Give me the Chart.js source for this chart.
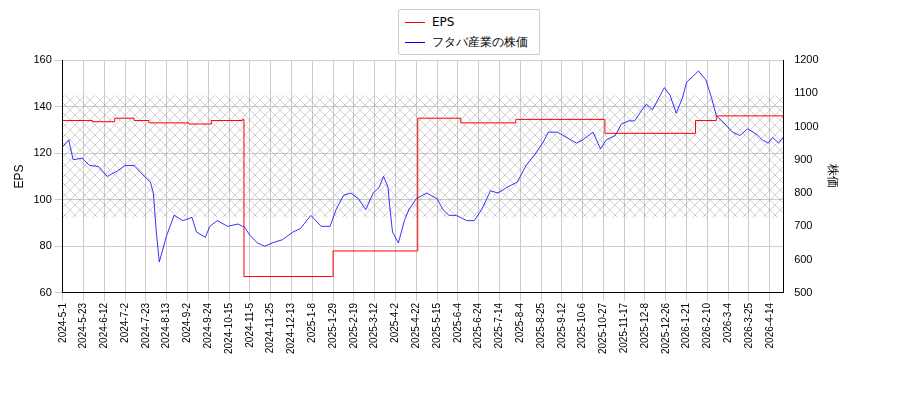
<!DOCTYPE html>
<html><head><meta charset="utf-8">
<script src="https://cdn.jsdelivr.net/npm/chart.js@4"></script>
<style>
body{margin:0;background:#fff;font-family:"DejaVu Sans",sans-serif}
#wrap{position:relative;width:900px;height:400px}
#legend{position:absolute;left:398px;top:9px;width:140px;border:1px solid #ccc;border-radius:2px;font-size:12px;padding:2px 0 2px 0;background:#fff}
#legend div{height:20px;line-height:20px;padding-left:6px}
#legend span{display:inline-block;width:20px;height:0;vertical-align:middle;margin-right:7px}
</style></head><body>
<div id="wrap"><canvas id="c" width="900" height="400"></canvas>
<div id="legend"><div><span style="border-top:1.5px solid red"></span>EPS</div><div><span style="border-top:1.5px solid blue"></span>フタバ産業の株価</div></div></div>
<script>
const tickLabels = ['2024-5-1','2024-5-23','2024-6-12','2024-7-2','2024-7-23','2024-8-13','2024-9-2','2024-9-24','2024-10-15','2024-11-5','2024-11-25','2024-12-13','2025-1-8','2025-1-29','2025-2-19','2025-3-12','2025-4-2','2025-4-22','2025-5-15','2025-6-4','2025-6-24','2025-7-14','2025-8-4','2025-8-25','2025-9-12','2025-10-6','2025-10-27','2025-11-17','2025-12-8','2025-12-26','2026-1-21','2026-2-10','2026-3-4','2026-3-25','2026-4-14'];
const tickStep = 14;   // trading days between labels
const lastDay = 485;
// stock price: trading-day index, price
const priceDays = [0,4,7,13,18,24,30,37,42,48,55,59,61,63,65,70,75,81,87,90,96,99,104,111,118,121,122,126,131,136,141,148,155,160,167,174,180,184,189,194,199,204,209,213,216,219,220,222,226,230,233,238,245,252,256,260,265,272,277,282,288,293,299,306,312,318,323,327,333,337,342,346,350,357,362,366,372,376,381,385,390,393,397,401,405,409,413,417,420,424,428,433,437,440,446,451,456,461,465,468,471,475,478,482,485];
const priceVals = [940,960,900,905,883,880,850,867,883,883,850,833,800,683,593,673,733,717,727,683,667,700,717,700,707,700,700,673,650,640,650,660,683,693,733,700,700,750,793,800,783,750,800,817,850,817,767,683,650,717,750,783,800,783,750,733,733,717,717,750,807,800,817,833,883,917,950,983,983,973,960,950,960,983,933,960,973,1007,1017,1017,1050,1067,1050,1083,1117,1093,1040,1083,1133,1150,1167,1140,1083,1033,1007,983,973,993,983,973,960,950,967,950,967];
// EPS: step changes (day, value)
const epsDays = [0,20,35,48,58,85,100,121,122,181,182,238,239,268,270,305,306,365,366,426,427,440,485];
const epsVals = [134,133.5,135,134,133,132.5,134,134.5,67,67,78,78,135,133,133,134.5,134.5,128.5,128.5,134,134,136,135];

const priceData = priceDays.map((d,i)=>({x:d,y:priceVals[i]}));
const epsData = epsDays.map((d,i)=>({x:d,y:epsVals[i]}));
const bandLow = 727, bandHigh = 1093;

function hatch(){
  const p=document.createElement('canvas');p.width=10;p.height=10;
  const g=p.getContext('2d');g.strokeStyle='rgba(120,120,120,0.55)';g.lineWidth=0.6;
  g.beginPath();g.moveTo(0,0);g.lineTo(10,10);g.moveTo(10,0);g.lineTo(0,10);g.stroke();
  return g.createPattern(p,'repeat');
}
const bandPlugin={id:'band',beforeDatasetsDraw(chart){
  const {ctx,chartArea:a,scales}=chart;
  const y1=scales.y1.getPixelForValue(bandHigh),y2=scales.y1.getPixelForValue(bandLow);
  ctx.save();ctx.fillStyle=hatch();ctx.fillRect(a.left,y1,a.right-a.left,y2-y1);ctx.restore();
}};

new Chart(document.getElementById('c'),{
  type:'line',
  data:{datasets:[
    {label:'EPS',data:epsData,borderColor:'red',borderWidth:1,pointRadius:0,stepped:true,yAxisID:'y'},
    {label:'フタバ産業の株価',data:priceData,borderColor:'blue',borderWidth:0.8,pointRadius:0,yAxisID:'y1'}
  ]},
  options:{responsive:false,animation:false,
    layout:{padding:{top:60,left:8,right:56,bottom:44}},
    plugins:{legend:{display:false},tooltip:{enabled:false}},
    scales:{
      x:{type:'linear',min:0,max:lastDay,grid:{color:'#ccc'},border:{color:'#000'},
        afterBuildTicks(ax){ax.ticks=tickLabels.map((t,i)=>({value:i*tickStep}));},
        ticks:{color:'#000',font:{size:10},padding:2,maxRotation:90,minRotation:90,autoSkip:false,callback:(v)=>tickLabels[Math.round(v/tickStep)]}},
      y:{position:'left',min:60,max:160,grid:{color:'#ccc'},border:{color:'#000'},
        ticks:{stepSize:20,color:'#000',font:{size:11}},title:{display:true,text:'EPS',color:'#000',font:{size:12}}},
      y1:{position:'right',min:500,max:1200,grid:{display:false},border:{color:'#000'},
        ticks:{stepSize:100,color:'#000',font:{size:11},callback:(v)=>String(v)},title:{display:true,text:'株価',color:'#000',font:{size:12}}}
    }
  },
  plugins:[bandPlugin]
});
</script></body></html>
